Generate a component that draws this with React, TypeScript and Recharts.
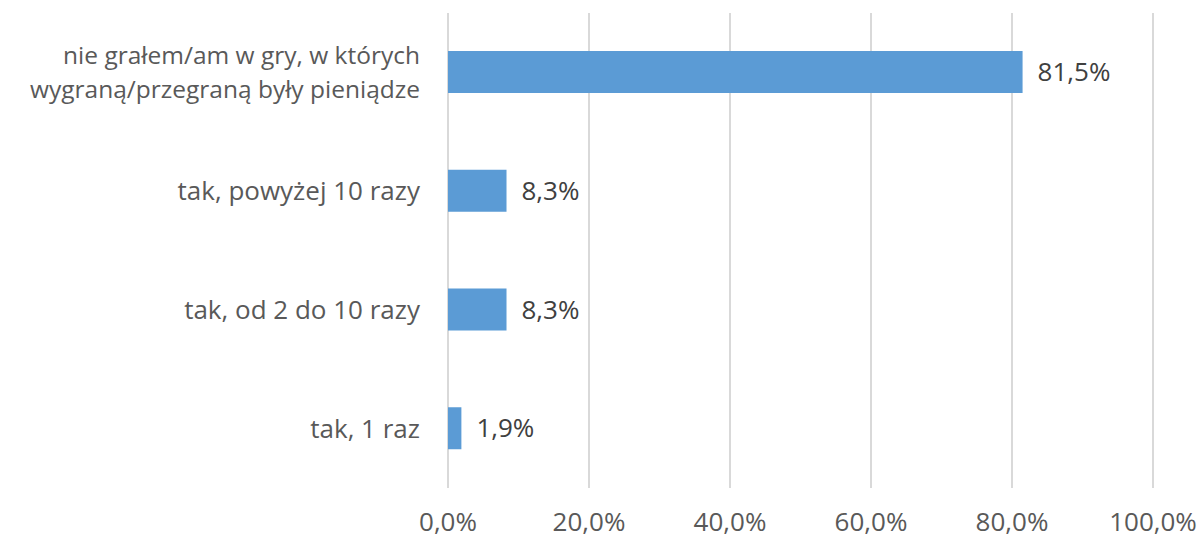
import React from "react";
import { BarChart, Bar, XAxis, YAxis, CartesianGrid, LabelList } from "recharts";

const categories = [
  "nie grałem/am w gry, w których\nwygraną/przegraną były pieniądze",
  "tak, powyżej 10 razy",
  "tak, od 2 do 10 razy",
  "tak, 1 raz",
];
const values = [81.5, 8.3, 8.3, 1.9];
const xTicks = [0, 20, 40, 60, 80, 100];

const data = categories.map((c, i) => ({ name: c, value: values[i] }));

const FONT = "'Open Sans', 'Liberation Sans', sans-serif";
const FS = 26;
const fmt = (v: number) => v.toFixed(1).replace(".", ",") + "%";

const YTick = (props: any) => {
  const { x, y, payload } = props;
  const lines = String(payload.value).split("\n");
  const lh = 34;
  const fs = lines.length > 1 ? 24.5 : FS;
  const start = -((lines.length - 1) * lh) / 2;
  return (
    <text x={x} y={y} textAnchor="end" fill="#595959" fontSize={fs} fontFamily={FONT}>
      {lines.map((l, i) => (
        <tspan key={i} x={x} dy={i === 0 ? start + 9 : lh}>
          {l}
        </tspan>
      ))}
    </text>
  );
};

export default function App() {
  return (
    <div style={{ position: "absolute", left: 0, top: 0, background: "#fff" }}>
      <BarChart
        width={1199}
        height={538}
        data={data}
        layout="vertical"
        margin={{ top: 13, right: 46, left: 0, bottom: 0 }}
      >
        <CartesianGrid horizontal={false} stroke="#D9D9D9" strokeWidth={2} />
        <XAxis
          type="number"
          domain={[0, 100]}
          ticks={xTicks}
          tickFormatter={fmt}
          axisLine={false}
          tickLine={false}
          tickSize={0}
          tickMargin={25}
          height={50}
          tick={{ fill: "#595959", fontSize: FS, fontFamily: FONT }}
          interval={0}
        />
        <YAxis
          type="category"
          dataKey="name"
          width={448}
          axisLine={false}
          tickLine={false}
          tickSize={0}
          tickMargin={28}
          tick={<YTick />}
          interval={0}
        />
        <Bar dataKey="value" fill="#5B9BD5" barSize={42} isAnimationActive={false}>
          <LabelList
            dataKey="value"
            position="right"
            offset={15}
            formatter={(v: any) => fmt(Number(v))}
            fill="#404040"
            fontSize={FS}
            fontFamily={FONT}
          />
        </Bar>
      </BarChart>
    </div>
  );
}
